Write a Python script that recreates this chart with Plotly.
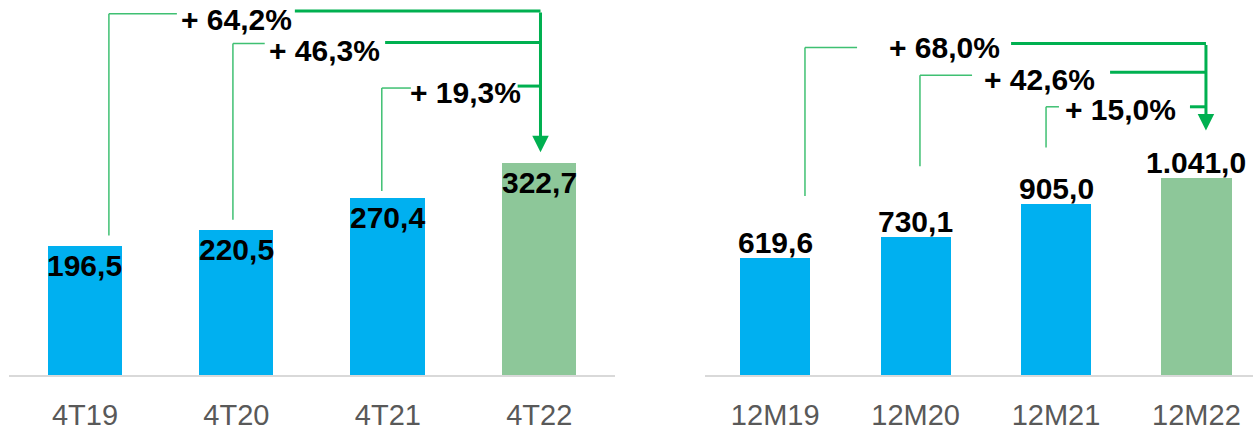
import plotly.graph_objects as go

# ---------------- data ----------------
cats_q = ["4T19", "4T20", "4T21", "4T22"]
vals_q = [196.5, 220.5, 270.4, 322.7]
growth_q = ["+ 64,2%", "+ 46,3%", "+ 19,3%"]

cats_y = ["12M19", "12M20", "12M21", "12M22"]
vals_y = [619.6, 730.1, 905.0, 1041.0]
growth_y = ["+ 68,0%", "+ 42,6%", "+ 15,0%"]

BLUE = "#00B0F0"
GREEN_BAR = "#8DC799"
LINE_THIN = "#3FC072"
LINE_THICK = "#00B050"
FONT = "Liberation Sans, Arial, sans-serif"


def br(v):
    s = f"{v:,.1f}"
    return s.replace(",", "X").replace(".", ",").replace("X", ".")


# connector geometry (data units): left vertical x, its bottom y, its top y,
# end of the thin horizontal, text x, text y, start of thick horizontal, its y
conn_q = [
    dict(xl=0.158, yb=212.7, yl=550.5, xh=0.607, tx=1.00, ty=542, xr=1.386, yr=555.0),
    dict(xl=0.977, yb=236.8, yl=505.3, xh=1.187, tx=1.583, ty=494, xr=1.982, yr=506.8),
    dict(xl=1.960, yb=280.5, yl=437.4, xh=2.152, tx=2.515, ty=431, xr=2.857, yr=440.4),
]
trunk_q = dict(x=3.008, top=555.0, tip=339.4)

conn_y = [
    dict(xl=0.212, yb=947.6, yl=1733, xh=0.583, tx=1.206, ty=1735, xr=1.680, yr=1754),
    dict(xl=1.031, yb=1105, yl=1586, xh=1.402, tx=1.879, ty=1562, xr=2.385, yr=1602),
    dict(xl=1.929, yb=1204, yl=1419, xh=2.021, tx=2.456, ty=1405, xr=2.954, yr=1419),
]
trunk_y = dict(x=3.068, top=1754, tip=1293)

fig = go.Figure()

fig.add_trace(go.Bar(
    x=list(range(4)), y=vals_q, width=0.49,
    marker=dict(color=[BLUE, BLUE, BLUE, GREEN_BAR], line=dict(width=0)),
    xaxis="x", yaxis="y", hoverinfo="skip",
))
fig.add_trace(go.Bar(
    x=list(range(4)), y=vals_y, width=0.5,
    marker=dict(color=[BLUE, BLUE, BLUE, GREEN_BAR], line=dict(width=0)),
    xaxis="x2", yaxis="y2", hoverinfo="skip",
))

annotations = []
shapes = []

# value labels
for i, v in enumerate(vals_q):
    annotations.append(dict(
        x=i, y=v, xref="x", yref="y", text=br(v), showarrow=False,
        yanchor="top", xanchor="center", yshift=-1,
        font=dict(family=FONT, size=30, color="black", weight="bold"),
    ))
for i, v in enumerate(vals_y):
    annotations.append(dict(
        x=i, y=v, xref="x2", yref="y2", text=br(v), showarrow=False,
        yanchor="bottom", xanchor="center", yshift=-3,
        font=dict(family=FONT, size=30, color="black", weight="bold"),
    ))


def add_connectors(conns, labels, trunk, xr_, yr_):
    for c, lab in zip(conns, labels):
        shapes.append(dict(type="line", xref=xr_, yref=yr_, x0=c["xl"], x1=c["xl"],
                           y0=c["yb"], y1=c["yl"], line=dict(color=LINE_THIN, width=1.5)))
        shapes.append(dict(type="line", xref=xr_, yref=yr_, x0=c["xl"], x1=c["xh"],
                           y0=c["yl"], y1=c["yl"], line=dict(color=LINE_THIN, width=1.5)))
        shapes.append(dict(type="line", xref=xr_, yref=yr_, x0=c["xr"], x1=trunk["x"],
                           y0=c["yr"], y1=c["yr"], line=dict(color=LINE_THICK, width=3)))
        annotations.append(dict(
            x=c["tx"], y=c["ty"], xref=xr_, yref=yr_, text=lab, showarrow=False,
            xanchor="center", yanchor="middle",
            font=dict(family=FONT, size=30, color="black", weight="bold"),
        ))
    annotations.append(dict(
        x=trunk["x"], y=trunk["tip"], ax=trunk["x"], ay=trunk["top"],
        xref=xr_, yref=yr_, axref=xr_, ayref=yr_, text="", showarrow=True,
        arrowhead=2, arrowsize=1.1, arrowwidth=3, arrowcolor=LINE_THICK, standoff=0,
    ))


add_connectors(conn_q, growth_q, trunk_q, "x", "y")
add_connectors(conn_y, growth_y, trunk_y, "x2", "y2")

W = 1253.0
axis_common = dict(
    showline=True, linecolor="#D9D9D9", linewidth=2, showgrid=False, zeroline=False,
    ticks="outside", ticklen=13, tickcolor="rgba(0,0,0,0)",
    tickfont=dict(family=FONT, size=29, color="#595959"),
    tickmode="array", tickvals=list(range(4)),
)

fig.update_layout(
    width=1253, height=431, autosize=False,
    margin=dict(l=0, r=0, t=0, b=52),
    paper_bgcolor="white", plot_bgcolor="white",
    showlegend=False, bargap=0,
    xaxis=dict(domain=[9.25 / W, 615 / W], range=[-0.5, 3.5], ticktext=cats_q, **axis_common),
    xaxis2=dict(domain=[705 / W, 1.0], range=[-0.5, 3.403], ticktext=cats_y, anchor="y2", **axis_common),
    yaxis=dict(range=[0, 571.6], visible=False, fixedrange=True),
    yaxis2=dict(range=[0, 1984], visible=False, anchor="x2"),
    annotations=annotations,
    shapes=shapes,
)

fig.write_html(
    "out.html",
    config={"displayModeBar": False},
    post_script="document.body.style.margin='0';document.body.style.overflow='hidden';",
)
